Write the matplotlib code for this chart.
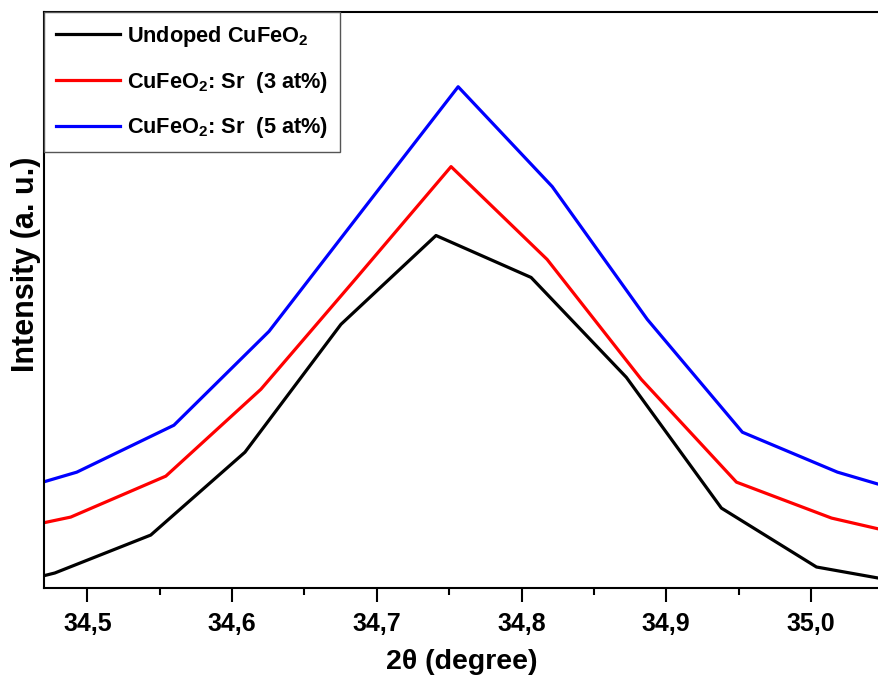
import numpy as np
import matplotlib
matplotlib.use('Agg')
import matplotlib.pyplot as plt

plt.rcParams['font.family'] = ['Liberation Sans', 'DejaVu Sans']
plt.rcParams['font.weight'] = 'bold'
plt.rcParams['mathtext.fontset'] = 'custom'
plt.rcParams['mathtext.rm'] = 'Liberation Sans:bold'
plt.rcParams['mathtext.bf'] = 'Liberation Sans:bold'

# 2theta positions (degree) and intensity (a.u.)
theta_undoped = [34.411, 34.4775, 34.5438, 34.6089, 34.6752, 34.7409, 34.8066, 34.8724, 34.9381, 35.0038, 35.0695]
int_undoped = [-9, 15, 53, 136, 264, 353, 311, 211, 80, 21, 4]

theta_sr3 = [34.423, 34.4885, 34.5542, 34.6199, 34.6856, 34.7513, 34.8177, 34.8827, 34.9485, 35.0142, 35.080]
int_sr3 = [51, 71, 112, 199, 310, 422, 329, 209, 106, 70, 48]

theta_sr5 = [34.427, 34.4927, 34.5598, 34.6255, 34.6905, 34.7562, 34.8212, 34.8869, 34.9526, 35.0183, 35.084]
int_sr5 = [88, 116, 163, 257, 379, 502, 402, 269, 156, 116, 88]

labels = ['Undoped CuFeO$_\\mathbf{2}$',
          'CuFeO$_\\mathbf{2}$: Sr  (3 at%)',
          'CuFeO$_\\mathbf{2}$: Sr  (5 at%)']

xticks = [34.5, 34.6, 34.7, 34.8, 34.9, 35.0]
xtick_labels = ['34,5', '34,6', '34,7', '34,8', '34,9', '35,0']

fig = plt.figure(figsize=(8.79, 6.77), dpi=100)
ax = fig.add_axes([0.050, 0.1315, 0.950, 0.851])

ax.plot(theta_undoped, int_undoped, color='black', lw=2.3, label=labels[0])
ax.plot(theta_sr3, int_sr3, color='#ff0000', lw=2.3, label=labels[1])
ax.plot(theta_sr5, int_sr5, color='#0000ff', lw=2.3, label=labels[2])

ax.set_xlim(34.470, 35.047)
ax.set_ylim(0, 577)

ax.set_xticks(xticks)
ax.set_xticklabels(xtick_labels)
ax.set_xticks(np.arange(34.55, 35.05, 0.1), minor=True)
ax.tick_params(axis='x', which='major', direction='out', length=10, width=1.5, labelsize=18, pad=7)
ax.tick_params(axis='x', which='minor', direction='out', length=5, width=1.5)
ax.set_yticks([])
ax.spines['right'].set_visible(False)
for s in ['left', 'bottom', 'top']:
    ax.spines[s].set_linewidth(1.5)

ax.set_xlabel('2\u03b8 (degree)', fontsize=20.5, fontweight='bold', labelpad=10)
ax.set_ylabel('Intensity (a. u.)', fontsize=22, fontweight='bold')
ax.yaxis.set_label_coords(-0.003, 0.5625)

leg = ax.legend(loc='upper left', borderaxespad=0, fancybox=False, fontsize=15.7,
                handlelength=2.95, handletextpad=0.3, labelspacing=0.95,
                borderpad=0.55, edgecolor='#555555', framealpha=1)
leg.get_frame().set_linewidth(1.0)

fig.savefig('out.png', dpi=100)
